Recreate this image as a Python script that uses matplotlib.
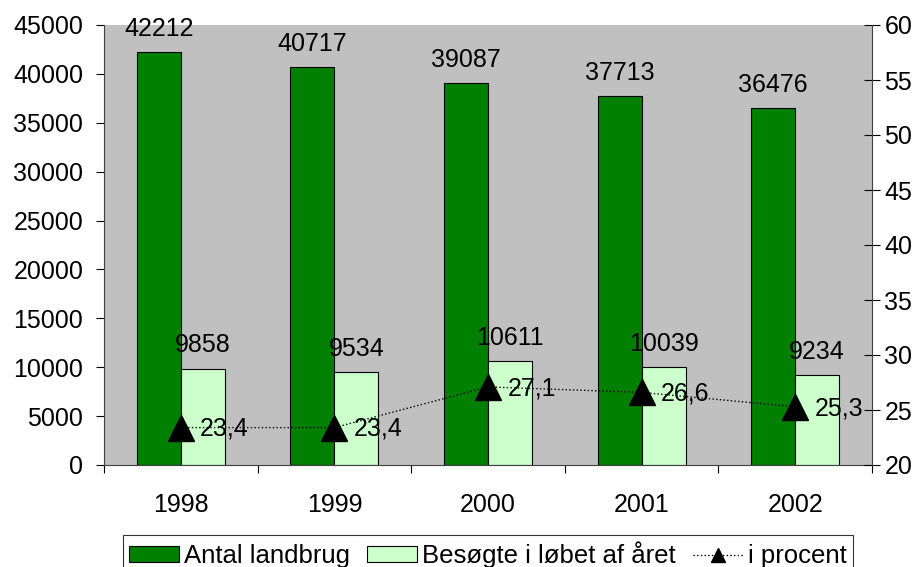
import matplotlib
matplotlib.use("Agg")
import matplotlib.pyplot as plt
import numpy as np

years = ["1998", "1999", "2000", "2001", "2002"]
antal = [42212, 40717, 39087, 37713, 36476]
besogte = [9858, 9534, 10611, 10039, 9234]
procent = [23.4, 23.4, 27.1, 26.6, 25.3]
procent_labels = ["23,4", "23,4", "27,1", "26,6", "25,3"]

plt.rcParams['font.family'] = ['Liberation Sans', 'DejaVu Sans']
FS = 18

W, H = 923, 567
fig = plt.figure(figsize=(W / 100, H / 100), dpi=100)
fig.patch.set_facecolor('white')
L, T, R, B = 104, 25, 872, 465
ax = fig.add_axes([L / W, 1 - B / H, (R - L) / W, (B - T) / H])
ax.set_facecolor('#C0C0C0')

x = np.arange(len(years))
w = 0.287
b1 = ax.bar(x - w / 2, antal, w, color='#008000', edgecolor='black', linewidth=0.8,
            label='Antal landbrug', zorder=2)
b2 = ax.bar(x + w / 2, besogte, w, color='#CCFFCC', edgecolor='black', linewidth=0.8,
            label='Besøgte i løbet af året', zorder=2)
for xi, v in zip(x - w / 2, antal):
    ax.annotate(str(v), (xi, v), xytext=(0, 8), textcoords='offset points',
                ha='center', va='bottom', fontsize=FS)
for xi, v in zip(x + w / 2, besogte):
    ax.annotate(str(v), (xi, v), xytext=(0, 8), textcoords='offset points',
                ha='center', va='bottom', fontsize=FS)

ax.set_xlim(-0.5, len(years) - 0.5)
ax.set_ylim(0, 45000)
ax.set_yticks(np.arange(0, 45001, 5000))
ax.set_xticks(x)
ax.set_xticklabels(years, fontsize=FS)
ax.set_xticks(np.arange(-0.5, len(years), 1), minor=True)
ax.tick_params(axis='x', which='major', length=0, pad=20)
ax.tick_params(axis='x', which='minor', length=6, direction='out', width=0.8)
ax.tick_params(axis='y', labelsize=FS, length=6, direction='out', width=0.8, pad=9)
for s in ['top', 'right']:
    ax.spines[s].set_visible(False)
ax.spines['left'].set_color('#404040')
ax.spines['bottom'].set_color('#404040')

ax2 = ax.twinx()
ax2.set_ylim(20, 60)
ax2.set_yticks(np.arange(20, 61, 5))
ax2.tick_params(axis='y', labelsize=FS, length=12, direction='inout', width=0.8, pad=3)
for s in ['top', 'left', 'bottom']:
    ax2.spines[s].set_visible(False)
ax2.spines['right'].set_color('#404040')
ln, = ax2.plot(x, procent, linestyle=':', color='black', linewidth=1.0, marker='^',
               markersize=19, markerfacecolor='black', markeredgecolor='black',
               label='i procent', zorder=3)
for xi, v, lab in zip(x, procent, procent_labels):
    ax2.annotate(lab, (xi, v), xytext=(14, -1), textcoords='offset points',
                 ha='left', va='center', fontsize=FS)

handles = [b1, b2, ln]
leg = fig.legend(handles, [h.get_label() for h in handles], loc='upper center',
                 bbox_to_anchor=(488 / W, 1 - 535 / H), ncol=3, fontsize=18.5,
                 frameon=True, fancybox=False, edgecolor='black',
                 handlelength=1.95, handleheight=0.56, handletextpad=0.2,
                 columnspacing=0.65, borderpad=0.25, borderaxespad=0, markerscale=0.55)
leg.get_frame().set_linewidth(0.8)

fig.savefig('out.png', dpi=100)
